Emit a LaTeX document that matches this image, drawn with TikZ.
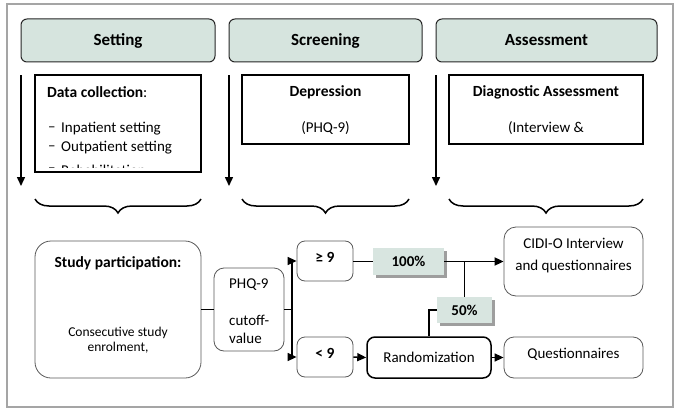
\documentclass[tikz,border=0pt]{standalone}
\usepackage{fontspec}
\setmainfont{Carlito}
\usetikzlibrary{arrows.meta,decorations.pathreplacing,shadows}
\definecolor{hdrfill}{RGB}{214,228,222}
\definecolor{pctfill}{RGB}{216,229,224}
\definecolor{framegray}{RGB}{165,165,165}
\begin{document}
\begin{tikzpicture}[x=1pt,y=-1pt,
  every node/.style={font=\fontsize{15}{18}\selectfont, text=black},
  hdr/.style={draw=black!85, line width=1pt, fill=hdrfill, rounded corners=6pt, minimum height=43pt, inner sep=0pt, font=\fontsize{17}{20}\selectfont\bfseries},
  sqbox/.style={draw=black, line width=1.2pt, inner sep=0pt},
  rbox/.style={draw=black!65, line width=0.8pt, rounded corners=10pt, inner sep=0pt},
  pct/.style={fill=pctfill, draw=none, inner sep=0pt, font=\fontsize{15}{18}\selectfont\bfseries, drop shadow={shadow xshift=2.5pt, shadow yshift=-2.5pt, fill=black!38, opacity=1}},
  txt/.style={inner sep=0pt},
  btxt/.style={inner sep=0pt, font=\fontsize{15.5}{18}\selectfont\bfseries},
  arr/.style={-{Triangle[length=9pt,width=8pt]}, line width=1.5pt},
  ln/.style={line width=1.4pt},
  brc/.style={decorate, decoration={brace, amplitude=14pt}, line width=1.5pt}
]
\useasboundingbox (0,0) rectangle (685,412);
\draw[draw=framegray, line width=1.2pt] (7,4) rectangle (673,407);

% headers
\node[hdr, minimum width=194pt] (hset) at (118,40.5) {Setting};
\node[hdr, minimum width=193pt] (hscr) at (325.5,40.5) {Screening};
\node[hdr, minimum width=221pt] (hass) at (546.5,40.5) {Assessment};

% data collection box
\begin{scope}
\clip (35,75) rectangle (201,167.5);
\node[txt, anchor=west] (dc3d) at (48,170) {–};
\node[txt, anchor=west] (dc3) at (61,170) {Rehabilitation};
\end{scope}
\node[sqbox, minimum width=166pt, minimum height=97pt] (dc) at (118,123.5) {};
\node[txt, anchor=west] (dct) at (47,92) {\fontsize{15.5}{18}\selectfont\textbf{Data collection}:};
\node[txt, anchor=west] (dc1d) at (48,129) {–};
\node[txt, anchor=west] (dc1) at (61,129) {Inpatient setting};
\node[txt, anchor=west] (dc2d) at (48,148) {–};
\node[txt, anchor=west] (dc2) at (61,148) {Outpatient setting};

% depression box
\node[sqbox, minimum width=167pt, minimum height=69pt] (dep) at (325.5,109.5) {};
\node[btxt] (dept) at (325.5,92) {Depression};
\node[txt] (dep1) at (325.5,128) {(PHQ-9)};

% diagnostic box
\node[sqbox, minimum width=194pt, minimum height=69pt] (dia) at (546,109.5) {};
\node[btxt] (diat) at (546,92) {Diagnostic Assessment};
\node[txt] (dia1) at (546,128) {(Interview \&};

% down arrows
\coordinate (a1s) at (21,75); \coordinate (a1e) at (21,186);
\coordinate (a2s) at (229,75); \coordinate (a2e) at (229,186);
\coordinate (a3s) at (436,75); \coordinate (a3e) at (436,186);
\draw[arr] (a1s) -- (a1e);
\draw[arr] (a2s) -- (a2e);
\draw[arr] (a3s) -- (a3e);

% braces
\coordinate (b1r) at (201,199); \coordinate (b1l) at (35,199);
\coordinate (b2r) at (409,199); \coordinate (b2l) at (242,199);
\coordinate (b3r) at (643,199); \coordinate (b3l) at (449,199);
\draw[brc] (b1r) -- (b1l);
\draw[brc] (b2r) -- (b2l);
\draw[brc] (b3r) -- (b3l);

% study participation
\node[rbox, rounded corners=16pt, minimum width=166pt, minimum height=137pt] (study) at (118,309.5) {};
\node[btxt] (studyt) at (118,263) {Study participation:};
\node[txt, font=\fontsize{13.5}{14.5}\selectfont, align=center] (studyt2) at (118,340) {Consecutive study\\enrolment,};

% PHQ cutoff box
\node[rbox, minimum width=70pt, minimum height=83pt] (phq) at (249,309.5) {};
\node[txt, anchor=west] (phqt1) at (229,285) {PHQ-9};
\node[txt, anchor=west] (phqt2) at (229,320) {cutoff-};
\node[txt, anchor=west] (phqt3) at (229,338) {value};

% threshold boxes
\node[rbox, rounded corners=8pt, minimum width=56pt, minimum height=40pt] (ge9) at (325,261) {};
\node[btxt] (ge9t) at (325,257) {≥ 9};
\node[rbox, rounded corners=8pt, minimum width=56pt, minimum height=40pt] (lt9) at (325,357) {};
\node[btxt] (lt9t) at (325,353) {< 9};

% percentage boxes
\node[pct, minimum width=71pt, minimum height=27pt] (p100) at (408.5,261.5) {100\%};
\node[pct, minimum width=55pt, minimum height=26pt] (p50) at (464.5,310) {50\%};

% outcome boxes
\node[rbox, rounded corners=12pt, minimum width=139pt, minimum height=69pt] (cidi) at (573.5,261.5) {};
\node[txt, align=center, font=\fontsize{15}{22}\selectfont] (cidit) at (573.5,256) {CIDI-O Interview\\and questionnaires};
\node[draw=black, line width=1.5pt, rounded corners=8pt, minimum width=124pt, minimum height=41pt, inner sep=0pt] (rand) at (429,357.5) {Randomization};
\node[rbox, minimum width=139pt, minimum height=41pt] (quest) at (573.5,357.5) {};
\node[txt] (questt) at (573.5,354) {Questionnaires};

% connectors
\draw[line width=1pt] (study.east) -- (phq.west);
\coordinate (split) at (292,309.5);
\draw[ln] (phq.east) -- (split);
\draw[arr] (split) |- (ge9.west);
\draw[arr] (split) |- (lt9.west);
\draw[line width=1pt] (ge9.east) -- (ge9.east -| p100.west);
\draw[arr, line width=1.8pt] (p100.east) -- (cidi.west);
\coordinate (junc) at (464.5,261.5);
\draw[ln] (junc) -- (p50.north);
\draw[ln] (p50.west) -| (rand.north);
\draw[arr] (lt9.east) -- (rand.west);
\draw[arr] (rand.east) -- (quest.west);
\end{tikzpicture}
\end{document}
